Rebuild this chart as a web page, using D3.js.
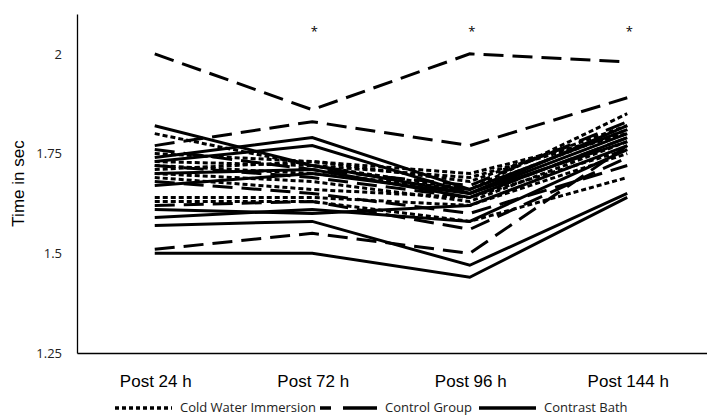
<!DOCTYPE html>
<html>
<head>
<meta charset="utf-8">
<script src="https://cdn.jsdelivr.net/npm/d3@7"></script>
<style>
  body { margin: 0; background: #fff; }
  svg { display: block; }
  .tick-label { font-family: 'Open Sans', sans-serif; font-size: 13px; fill: #222; }
  .cat-label, .axis-title { font-family: 'Liberation Sans', Arial, sans-serif; font-size: 17px; fill: #000; }
  .legend-label { font-family: 'Open Sans', sans-serif; font-size: 13px; fill: #222; }
</style>
</head>
<body>
<div id="chart"></div>
<script>
// categories (time points)
const categories = ['Post 24 h', 'Post 72 h', 'Post 96 h', 'Post 144 h'];
const yTicks = [1.25, 1.5, 1.75, 2];
const starCategories = ['Post 72 h', 'Post 96 h', 'Post 144 h'];

// one row per participant, values in sec
const cwiSeries = [
  [1.72, 1.70, 1.66, 1.85],
  [1.64, 1.64, 1.62, 1.75],
  [1.63, 1.63, 1.58, 1.69],
  [1.70, 1.68, 1.63, 1.78],
  [1.73, 1.72, 1.69, 1.80],
  [1.69, 1.66, 1.64, 1.76],
  [1.71, 1.73, 1.68, 1.82],
  [1.75, 1.73, 1.70, 1.80],
  [1.80, 1.72, 1.66, 1.81]
];
const controlSeries = [
  [2.00, 1.86, 2.00, 1.98],
  [1.77, 1.83, 1.77, 1.89],
  [1.51, 1.55, 1.50, 1.77],
  [1.62, 1.63, 1.56, 1.74],
  [1.68, 1.65, 1.60, 1.72],
  [1.72, 1.69, 1.64, 1.79],
  [1.76, 1.71, 1.67, 1.83]
];
const contrastSeries = [
  [1.82, 1.72, 1.65, 1.80],
  [1.74, 1.79, 1.66, 1.81],
  [1.73, 1.77, 1.65, 1.82],
  [1.70, 1.71, 1.64, 1.79],
  [1.67, 1.70, 1.65, 1.78],
  [1.61, 1.60, 1.62, 1.77],
  [1.59, 1.61, 1.58, 1.76],
  [1.57, 1.58, 1.47, 1.65],
  [1.50, 1.50, 1.44, 1.64]
];

const groups = [
  {name: 'Cold Water Immersion', rows: cwiSeries, dash: '5,3'},
  {name: 'Control Group', rows: controlSeries, dash: '20,9'},
  {name: 'Contrast Bath', rows: contrastSeries, dash: null}
];

const width = 707, height = 420;
const margin = {top: 14, right: 0, bottom: 67, left: 77};

const svg = d3.select('#chart').append('svg')
  .attr('width', width).attr('height', height);

const scaleX = d3.scaleBand(categories, [margin.left, width - margin.right]);
const scaleY = d3.scaleLinear([1.25, 2.1], [height - margin.bottom, margin.top]);
const cx = c => scaleX(c) + scaleX.bandwidth() / 2 - 1;

// axes (no tick marks, excel style)
svg.append('g')
  .attr('transform', `translate(${margin.left},0)`)
  .call(d3.axisLeft(scaleY).tickValues(yTicks).tickSize(0).tickPadding(15).tickFormat(d3.format('')))
  .call(g => g.select('.domain').attr('stroke', '#000').attr('stroke-width', 1.3))
  .call(g => g.selectAll('text').attr('class', 'tick-label').attr('fill', null).attr('font-size', null).attr('font-family', null));

svg.append('g')
  .attr('transform', `translate(0,${height - margin.bottom})`)
  .call(d3.axisBottom(scaleX).tickSize(0).tickPadding(22).tickSizeOuter(0))
  .call(g => g.select('.domain').attr('stroke', '#000').attr('stroke-width', 1.3))
  .call(g => g.selectAll('text').attr('class', 'cat-label').attr('fill', null).attr('font-size', null).attr('font-family', null));

svg.append('text')
  .attr('class', 'axis-title')
  .attr('transform', `translate(24,${scaleY(1.675)})rotate(-90)`)
  .style('text-anchor', 'middle')
  .text('Time in sec');

// participant lines
const line = d3.line()
  .x((d, i) => cx(categories[i]))
  .y(d => scaleY(d));

groups.forEach(gr => {
  svg.append('g').selectAll('path')
    .data(gr.rows)
    .join('path')
    .attr('d', line)
    .attr('fill', 'none')
    .attr('stroke', '#000')
    .attr('stroke-width', 3)
    .attr('stroke-dasharray', gr.dash);
});

// significance markers
svg.append('g').selectAll('text')
  .data(starCategories)
  .join('text')
  .attr('x', d => cx(d) + 2)
  .attr('y', scaleY(2.045))
  .style('text-anchor', 'middle')
  .style('font-family', 'Open Sans, sans-serif')
  .style('font-size', '13px')
  .text('*');

// legend
const legend = svg.append('g').attr('transform', 'translate(115,412)');
const legendX = [0, 205, 364];
groups.forEach((gr, i) => {
  const item = legend.append('g').attr('transform', `translate(${legendX[i]},0)`);
  item.append('line')
    .attr('x1', 0).attr('x2', 57).attr('y1', -4).attr('y2', -4)
    .attr('stroke', '#000').attr('stroke-width', 3.5)
    .attr('stroke-dasharray', i === 0 ? '4,3' : i === 1 ? '11,12,34' : null);
  item.append('text')
    .attr('class', 'legend-label')
    .attr('x', 65).attr('y', 0)
    .text(gr.name);
});
</script>
</body>
</html>
